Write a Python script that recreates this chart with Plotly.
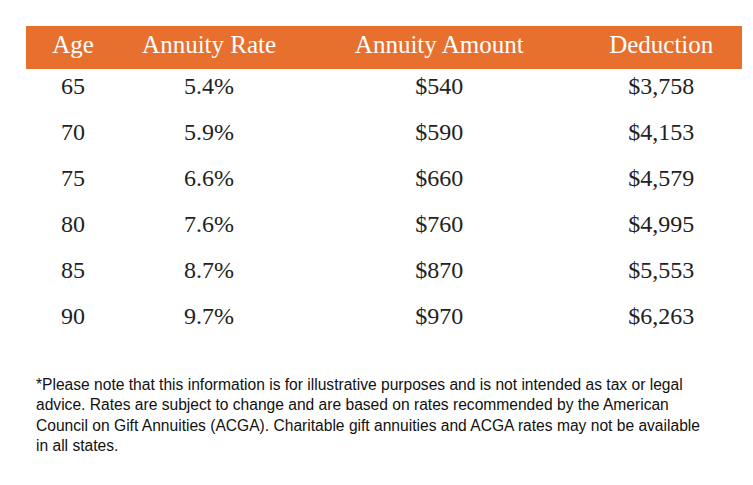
import plotly.graph_objects as go

headers = ["Age", "Annuity Rate", "Annuity Amount", "Deduction"]
ages = ["65", "70", "75", "80", "85", "90"]
rates = ["5.4%", "5.9%", "6.6%", "7.6%", "8.7%", "9.7%"]
amounts = ["$540", "$590", "$660", "$760", "$870", "$970"]
deductions = ["$3,758", "$4,153", "$4,579", "$4,995", "$5,553", "$6,263"]

note = ("*Please note that this information is for illustrative purposes and is not intended as tax or legal<br>"
        "advice. Rates are subject to change and are based on rates recommended by the American<br>"
        "Council on Gift Annuities (ACGA). Charitable gift annuities and ACGA rates may not be available<br>"
        "in all states.")

W, H = 753, 485
orange = "#E8702F"

fig = go.Figure(go.Table(
    domain=dict(x=[18 / W, 734 / W], y=[1 - 345 / H, 1 - 18 / H]),
    columnwidth=[92, 174, 276, 158],
    header=dict(values=headers, fill_color=orange, line_color=orange, height=42,
                align="center", font=dict(family="Liberation Serif", size=25, color="white")),
    cells=dict(values=[ages, rates, amounts, deductions], fill_color="white", line_color="white",
               height=46, align="center",
               font=dict(family="Liberation Serif", size=24, color="#222222")),
))

fig.add_annotation(x=26 / W, y=1 - 366 / H, xref="paper", yref="paper", xanchor="left", yanchor="top",
                   text=note, showarrow=False, align="left",
                   font=dict(family="Liberation Sans", size=15.6, color="#111111"))

fig.update_layout(width=W, height=H, margin=dict(l=0, r=0, t=0, b=0),
                  paper_bgcolor="white", plot_bgcolor="white")
fig.write_html("out.html")
